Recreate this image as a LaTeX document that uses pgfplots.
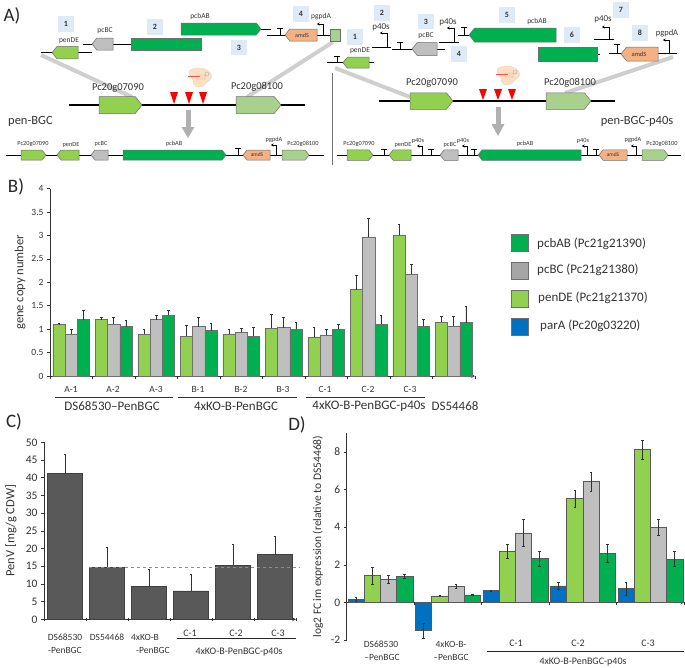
\documentclass[border=0pt]{standalone}
\usepackage{fontspec}
\setmainfont{Carlito}
\usepackage{pgfplots}
\pgfplotsset{compat=1.18}
\usetikzlibrary{arrows.meta}

\definecolor{gpen}{HTML}{92D050}
\definecolor{ggray}{HTML}{BFBFBF}
\definecolor{gab}{HTML}{00B050}
\definecolor{gpar}{HTML}{0070C0}
\definecolor{glight}{HTML}{A9D18E}
\definecolor{gamd}{HTML}{F4B183}
\definecolor{boxblue}{HTML}{DEEAF6}
\definecolor{band}{HTML}{CFCFCF}
\definecolor{txt}{HTML}{333333}
\definecolor{edge}{HTML}{6E6E6E}

\newcommand{\fs}[1]{\fontsize{#1}{#1}\selectfont}
% genes: x1, x2, y, height, colour
\newcommand{\gener}[5]{\draw[draw=edge,fill=#5,line width=.5pt] (#1,{#3-#4/2}) -- ({#2-#4/2.5},{#3-#4/2}) -- (#2,#3) -- ({#2-#4/2.5},{#3+#4/2}) -- (#1,{#3+#4/2}) -- cycle;}
\newcommand{\genel}[5]{\draw[draw=edge,fill=#5,line width=.5pt] (#2,{#3-#4/2}) -- ({#1+#4/2.5},{#3-#4/2}) -- (#1,#3) -- ({#1+#4/2.5},{#3+#4/2}) -- (#2,{#3+#4/2}) -- cycle;}
% terminator: x, y, height, half cap
\newcommand{\term}[4]{\draw[line width=.9pt] (#1,#2) -- (#1,{#2-#3}) (#1-#4,{#2-#3}) -- (#1+#4,{#2-#3});}
% promoter: x, y, height, length
\newcommand{\prom}[4]{\draw[line width=.9pt,-{Stealth[length=2.6pt,width=3.2pt]}] (#1,#2) -- (#1,{#2-#3}) -- ({#1-#4},{#2-#3});}
\newcommand{\numbox}[3]{\node[fill=boxblue,minimum width=16pt,minimum height=15.5pt,inner sep=0pt,text=txt,font=\fs{8}\bfseries] at (#1,#2) {#3};}
\newcommand{\lab}[4]{\node[text=txt,inner sep=0pt,font=\fs{#3}] at (#1,#2) {#4};}
\newcommand{\mold}[2]{\begin{scope}[shift={(#1,#2)}]
\fill[fill=orange!25,draw=gray!35,line width=.3pt] (-11,-6) .. controls (-4,-11) and (6,-10) .. (11,-3) .. controls (14,2) and (6,5) .. (3,9) .. controls (-3,12) and (-8,8) .. (-7,3) .. controls (-8,0) and (-12,-2) .. (-11,-6) -- cycle;
\draw[red!70,line width=.4pt] (-12,-1) -- (0,-1);
\draw[gray!70,line width=.3pt] (-3,-2) rectangle (5,2) (7,-3) circle (2);
\end{scope}}

\begin{document}
\begin{tikzpicture}
\useasboundingbox (0pt,0pt) rectangle (685pt,-667pt);

\pgfplotsset{
  panel/.style={
    scale only axis,
    anchor=south west,
    axis y line=left,
    axis line style={-,color=txt,line width=.7pt},
    tick style={color=txt,line width=.6pt},
    major tick length=3pt,
    tick align=outside,
    xticklabels={},
    /pgf/number format/assume math mode=true,
    enlargelimits=false,
    clip=false,
    tick label style={text=txt},
    ylabel style={text=txt,anchor=center},
  },
  bars/.style={draw=#1,line width=.7pt},
  bars/.default=edge,
  ebar/.style={
    error bars/.cd,y dir=#1,y explicit,
    error bar style={color=txt,line width=.6pt},
    error mark options={rotate=90,mark size=1.3pt,color=txt,line width=.5pt},
  },
  ebar/.default=both,
}

% panel B
\begin{axis}[panel,
  at={(50pt,-376pt)},width=425pt,height=187.3pt,
  axis x line=bottom,
  ybar=0pt,bar width=12.2pt,
  xmin=-0.5,xmax=9.5,ymin=0,ymax=4,
  xtick={-0.5,0.5,...,9.5},
  ytick={0,0.5,...,4},
  yticklabels={0,0.5,1,1.5,2,2.5,3,3.5,4},
  tick label style={font=\fs{9.5}},
  ylabel={gene copy number},
  ylabel style={at={(axis description cs:-0.0706,0.5)},font=\fs{12.5}},
]
\addplot[bars,fill=gpen,ebar=plus] coordinates {
  (0,1.10) +- (0,0.02) (1,1.20) +- (0,0.05) (2,0.90) +- (0,0.09)
  (3,0.85) +- (0,0.24) (4,0.90) +- (0,0.10) (5,1.02) +- (0,0.30)
  (6,0.83) +- (0,0.21) (7,1.84) +- (0,0.31) (8,3.01) +- (0,0.24)
  (9,1.15) +- (0,0.13)};
\addplot[bars,fill=ggray,ebar=plus] coordinates {
  (0,0.90) +- (0,0.10) (1,1.10) +- (0,0.15) (2,1.20) +- (0,0.10)
  (3,1.05) +- (0,0.21) (4,0.93) +- (0,0.10) (5,1.03) +- (0,0.23)
  (6,0.87) +- (0,0.13) (7,2.97) +- (0,0.40) (8,2.17) +- (0,0.21)
  (9,1.07) +- (0,0.21)};
\addplot[bars,fill=gab,ebar=plus] coordinates {
  (0,1.20) +- (0,0.20) (1,1.05) +- (0,0.14) (2,1.30) +- (0,0.10)
  (3,0.97) +- (0,0.15) (4,0.85) +- (0,0.20) (5,1.00) +- (0,0.14)
  (6,1.00) +- (0,0.10) (7,1.10) +- (0,0.20) (8,1.06) +- (0,0.15)
  (9,1.14) +- (0,0.36)};
\end{axis}

% panel C
\begin{axis}[panel,
  at={(44pt,-619.3pt)},width=252pt,height=177pt,
  axis x line=bottom,
  xmin=-0.5,xmax=5.5,ymin=0,ymax=50,
  xtick={-0.5,0.5,...,5.5},
  ytick={0,5,...,50},
  tick label style={font=\fs{11.5}},
  ylabel={PenV [mg/g CDW]},
  ylabel style={at={(axis description cs:-0.131,0.5)},font=\fs{12.5}},
]
\addplot[ybar,bar width=35.5pt,bars=black!75,fill=black!65,ebar=plus] coordinates {
  (0,41.1) +- (0,5.4) (1,14.7) +- (0,5.6) (2,9.2) +- (0,4.9)
  (3,8.0) +- (0,4.8) (4,15.3) +- (0,6.0) (5,18.3) +- (0,5.1)};
\addplot[dashed,color=black!45,line width=.6pt] coordinates {(0.57,14.7) (5.6,14.7)};
\end{axis}

% panel D
\begin{axis}[panel,
  at={(346.7pt,-640pt)},width=337.5pt,height=206.7pt,
  axis x line=middle,
  ybar=0pt,bar width=16.2pt,
  xmin=-0.5,xmax=4.5,ymin=-2,ymax=9,
  xtick={-0.5,0.5,...,4.5},
  ytick={-2,0,2,4,6,8},
  yticklabels={-2,0,2,4,6,8},
  tick label style={font=\fs{11.5}},
  ylabel={log2 FC im expression (relative to DS54468)},
  ylabel style={at={(axis description cs:-0.085,0.5)},font=\fs{11.5}},
]
\addplot[bars=black!65,fill=gpar,ebar] coordinates {
  (0,0.15) +- (0,0.10) (1,-1.50) +- (0,0.40) (2,0.63) +- (0,0.02)
  (3,0.88) +- (0,0.20) (4,0.75) +- (0,0.35)};
\addplot[bars=black!65,fill=gpen,ebar] coordinates {
  (0,1.42) +- (0,0.45) (1,0.35) +- (0,0.03) (2,2.72) +- (0,0.35)
  (3,5.52) +- (0,0.43) (4,8.13) +- (0,0.50)};
\addplot[bars=black!65,fill=ggray,ebar] coordinates {
  (0,1.22) +- (0,0.22) (1,0.85) +- (0,0.10) (2,3.70) +- (0,0.70)
  (3,6.43) +- (0,0.50) (4,4.00) +- (0,0.40)};
\addplot[bars=black!65,fill=gab,ebar] coordinates {
  (0,1.38) +- (0,0.10) (1,0.40) +- (0,0.03) (2,2.33) +- (0,0.40)
  (3,2.62) +- (0,0.50) (4,2.30) +- (0,0.40)};
\end{axis}

\begin{scope}[x=1pt,y=-1pt]
% panel letters
\node[font=\fs{19},text=black!85] at (12,16) {A)};
\node[font=\fs{19},text=black!85] at (16,187) {B)};
\node[font=\fs{19},text=black!85] at (14,422) {C)};
\node[font=\fs{19},text=black!85] at (297,425) {D)};

% panel B labels
\foreach \x/\t in {71/A-1,113/A-2,156/A-3,198/B-1,241/B-2,283/B-3,325/C-1,368/C-2,410/C-3}
  \lab{\x}{389}{9.5}{\t};
\draw[txt,line width=.7pt] (55,397) -- (173,397) (178,397) -- (297,397) (306,397) -- (425,397);
\lab{112}{406}{13}{DS68530–PenBGC}
\lab{236}{406}{13}{4xKO-B-PenBGC}
\lab{369}{406}{13}{4xKO-B-PenBGC-p40s}
\lab{455}{406}{13}{DS54468}

% legend
\foreach \y/\c in {242.5/gab,270.5/black!35,298.5/gpen,326.5/gpar}{
  \draw[draw=edge,fill=\c,line width=.8pt] (511,\y-8.5) rectangle (528,\y+8.5);
}
\node[anchor=west,inner sep=0pt,text=txt,font=\fs{13}] at (537,244) {pcbAB (Pc21g21390)};
\node[anchor=west,inner sep=0pt,text=txt,font=\fs{13}] at (537,270) {pcBC (Pc21g21380)};
\node[anchor=west,inner sep=0pt,text=txt,font=\fs{13}] at (538,298) {penDE (Pc21g21370)};
\node[anchor=west,inner sep=0pt,text=txt,font=\fs{13}] at (540,326) {parA (Pc20g03220)};

% panel C labels
\lab{65}{637}{9.5}{DS68530}
\lab{65}{650}{9.5}{-PenBGC}
\lab{107}{637}{9.5}{DS54468}
\lab{145}{637}{9.5}{4xKO-B}
\lab{153}{650}{9.5}{-PenBGC}
\lab{190}{633}{10}{C-1}
\lab{236}{633}{10}{C-2}
\lab{278}{633}{10}{C-3}
\draw[black!85,line width=.7pt] (177,638.5) -- (296,638.5);
\lab{239}{652}{10}{4xKO-B-PenBGC-p40s}

% panel D labels
\lab{381}{644}{9.5}{DS68530}
\lab{382}{657}{9.5}{–PenBGC}
\lab{451}{644}{9.5}{4xKO-B-}
\lab{451}{657}{9.5}{–PenBGC}
\lab{516}{643}{10}{C-1}
\lab{578}{643}{10}{C-2}
\lab{648}{643}{10}{C-3}
\draw[black!85,line width=.7pt] (487,651) -- (684,651);
\lab{583}{662}{10}{4xKO-B-PenBGC-p40s}

% panel A, left construct
\draw[band,line width=4pt] (41,55) -- (132,97);
\draw[band,line width=4pt] (333,42) -- (247,97);
\numbox{66}{24}{1} \numbox{155}{27}{2} \numbox{239}{47.5}{3} \numbox{301}{14}{4}
\draw[line width=.9pt] (41,52.7) -- (92,52.7) (83,44) -- (131,44) (261,29) -- (271,29) (267,35) -- (330,35);
\genel{52}{78}{52.7}{12.5}{gpen}
\genel{92}{113}{44}{12}{ggray}
\fill[gab,draw=edge,line width=.3pt] (131,38) rectangle (201,50);
\gener{181}{261}{29}{12}{gab}
\term{280}{35}{7}{3}
\genel{285}{317}{35}{12}{gamd}
\prom{323}{35}{11}{6}
\fill[glight,draw=edge,line width=.3pt] (330,29) rectangle (340,41);
\lab{69}{41}{7.5}{penDE} \lab{105}{31}{7.5}{pcBC} \lab{200}{16}{7.5}{pcbAB}
\lab{302}{35}{6}{amdS} \lab{321}{17}{7.5}{pgpdA}

\draw[line width=1.4pt] (69,105) -- (305,105);
\gener{99}{142}{105}{17}{gpen}
\gener{236}{281}{105}{17}{glight}
\lab{118}{88}{10.5}{Pc20g07090} \lab{257}{87}{10.5}{Pc20g08100}
\foreach \x in {174,189,203} \fill[red] (\x-4,92) -- (\x+4,92) -- (\x,104) -- cycle;
\mold{200}{77}
\draw[band!85!black,line width=5pt] (188,110) -- (188,128);
\fill[band!85!black] (181.5,127) -- (194.5,127) -- (188,138) -- cycle;
\node[anchor=west,inner sep=0pt,text=txt,font=\fs{12.5}] at (8,121) {pen-BGC};

% left, product
\draw[line width=.9pt] (6,155) -- (324,155);
\gener{21}{46}{155}{10}{gpen}
\genel{57}{79}{155}{10}{gpen}
\genel{91}{108}{155}{10}{ggray}
\gener{123}{226}{155}{10}{gab}
\term{238}{155}{7}{3}
\genel{243}{270}{155}{10}{gamd}
\prom{276}{155}{10}{5}
\gener{282}{309}{155}{10}{glight}
\lab{33}{144}{6.3}{Pc20g07090} \lab{71}{145}{6.3}{penDE} \lab{101}{144}{6.3}{pcBC}
\lab{174}{144}{6.3}{pcbAB} \lab{257}{155}{5.5}{amdS} \lab{274}{140}{6.3}{pgpdA} \lab{303}{144}{6.3}{Pc20g08100}

\draw[black!55,line width=.7pt] (332,73) -- (332,165);

% panel A, right construct
\draw[band,line width=4pt] (335,68) -- (410,97);
\draw[band,line width=4pt] (673,57) -- (565,93);
\numbox{355}{37}{1} \numbox{382}{13}{2} \numbox{426}{21.5}{3} \numbox{459}{54}{4}
\numbox{507}{15}{5} \numbox{572}{35}{6} \numbox{621}{10}{7} \numbox{640}{33}{8}
\draw[line width=.9pt] (327,62.7) -- (374,62.7) (372,47) -- (391,47) (392,49) -- (445,49)
  (439,42) -- (459,42) (458,35) -- (469,35) (597,54) -- (600,54) (594,39) -- (614,39) (609,53) -- (677,53);
\term{337}{62.7}{6.5}{3}
\genel{343}{369}{62.7}{11}{gpen}
\prom{387}{47}{14}{7}
\term{400}{49}{7}{3}
\genel{412}{437}{49}{13}{ggray}
\prom{454}{42}{14}{7}
\term{464}{35}{8}{3}
\genel{469}{556}{35}{14}{gab}
\fill[gab,draw=edge,line width=.3pt] (538,47) rectangle (597,61);
\prom{609}{39}{12}{7}
\term{617}{53}{9}{3}
\genel{621}{658}{54}{14}{gamd}
\prom{669}{53}{13}{6}
\lab{360}{51}{7.5}{penDE} \lab{381}{27}{9}{p40s} \lab{426}{36}{7.5}{pcBC} \lab{448}{22}{9}{p40s}
\lab{537}{21}{7.5}{pcbAB} \lab{603}{19}{9}{p40s} \lab{639}{54}{6.5}{amdS} \lab{667}{33}{8.5}{pgpdA}

\draw[line width=1.4pt] (379,101) -- (615,101);
\gener{410}{453}{101}{16.5}{gpen}
\gener{546}{591}{101}{16.5}{glight}
\lab{432}{83}{10.5}{Pc20g07090} \lab{570}{83}{10.5}{Pc20g08100}
\foreach \x in {483,498,512} \fill[red] (\x-4,89) -- (\x+4,89) -- (\x,100) -- cycle;
\mold{508}{75}
\draw[band!85!black,line width=5pt] (498,107) -- (498,125);
\fill[band!85!black] (491.5,124) -- (504.5,124) -- (498,136) -- cycle;
\node[text=txt,inner sep=0pt,font=\fs{12.5}] at (637,121) {pen-BGC-p40s};

% right, product
\draw[line width=.9pt] (337,155) -- (681,155);
\gener{347}{373}{155}{10.5}{gpen}
\term{384}{155}{6}{3}
\genel{389}{411}{155}{10.5}{gpen}
\prom{422}{155}{9}{5}
\term{431}{155}{6}{3}
\genel{440}{458}{155}{10.5}{ggray}
\prom{467}{155}{9}{5}
\term{474}{155}{6}{3}
\genel{478}{581}{155}{10.5}{gab}
\prom{587}{155}{9}{5}
\term{596}{155}{6}{3}
\genel{599}{627}{155}{10.5}{gamd}
\prom{636}{155}{9}{5}
\gener{642}{668}{155}{10.5}{glight}
\lab{359}{144}{6.3}{Pc20g07090} \lab{403}{145}{6.3}{penDE} \lab{418}{141}{6.3}{p40s}
\lab{450}{145}{6.3}{pcBC} \lab{463}{141}{6.3}{p40s} \lab{525}{144}{6.3}{pcbAB}
\lab{583}{141}{6.3}{p40s} \lab{613}{155}{5.5}{amdS} \lab{633}{140}{6.3}{pgpdA} \lab{662}{144}{6.3}{Pc20g08100}
\end{scope}
\end{tikzpicture}
\end{document}
